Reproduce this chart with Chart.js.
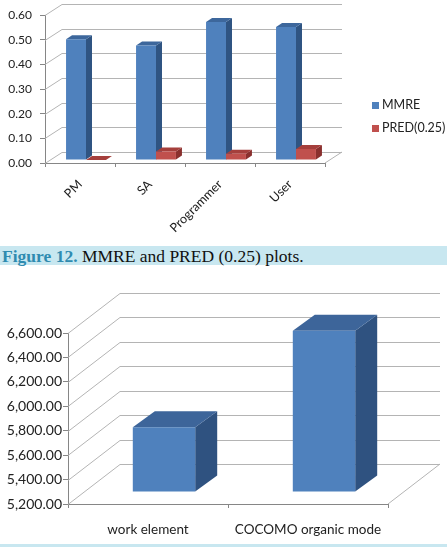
<!DOCTYPE html>
<html>
<head>
<meta charset="utf-8">
<script src="https://cdn.jsdelivr.net/npm/chart.js@4.4.0/dist/chart.umd.min.js"></script>
<style>
  html, body { margin: 0; padding: 0; background: #fff; }
  body { width: 447px; height: 547px; position: relative; overflow: hidden; }
  .box { position: absolute; left: 0; width: 447px; }
  #topBox { top: 0; height: 245px; }
  #bottomBox { top: 266px; height: 278px; }
  .caption {
    position: absolute; left: 0; top: 246px; width: 445px; height: 19px;
    padding-left: 2px; background: #c8e7f0; white-space: nowrap;
    font-family: 'Liberation Serif', serif; font-size: 17.5px; line-height: 20px; color: #111;
  }
  .caption b { color: #2f8bb0; }
  .band { position: absolute; left: 0; top: 544px; width: 447px; height: 3px; background: #c8e7f0; }
</style>
</head>
<body>
<div class="box" id="topBox"><canvas id="mmreChart"></canvas></div>
<div class="caption"><b>Figure 12.</b> MMRE and PRED (0.25) plots.</div>
<div class="box" id="bottomBox"><canvas id="effortChart"></canvas></div>
<div class="band"></div>
<script>
// MMRE / PRED - 3D BARS
const roles = ["PM", "SA", "Programmer", "User"];
const mmre = [0.49, 0.465, 0.56, 0.54];
const pred = [0, 0.035, 0.025, 0.045];
const topMin = 0, topMax = 0.6, topStep = 0.1;

// EFFORT - 3D BARS
const methods = ["work element", "COCOMO organic mode"];
const effort = [5730, 6520];
const botMin = 5200, botMax = 6600, botStep = 200;

Chart.defaults.font.family = "Lato, 'Open Sans', sans-serif";
Chart.defaults.color = "#222";

function poly(ctx, pts) {
    ctx.beginPath();
    pts.forEach((p, i) => i ? ctx.lineTo(p[0], p[1]) : ctx.moveTo(p[0], p[1]));
    ctx.closePath();
    ctx.fill();
}

// walls + side/top faces of the bars, fronts are drawn by chart.js
function box3d(o) {
    return {
        id: 'box3d',
        beforeDatasetsDraw(chart) {
            const ctx = chart.ctx, a = chart.chartArea, y = chart.scales.y;
            const [wx, wy] = o.wall;
            ctx.save();
            ctx.strokeStyle = '#b4b4b4';
            ctx.lineWidth = 1;
            ctx.beginPath();
            y.ticks.forEach(t => {
                const py = Math.round(y.getPixelForValue(t.value)) + 0.5;
                ctx.moveTo(a.left, py);
                ctx.lineTo(a.left + wx, py + wy);
                ctx.lineTo(a.right + wx, py + wy);
            });
            ctx.moveTo(a.right, a.bottom);
            ctx.lineTo(a.right + wx, a.bottom + wy);
            ctx.stroke();

            ctx.translate(o.shift[0], o.shift[1]);
            const bars = [];
            chart.data.datasets.forEach((ds, i) => {
                chart.getDatasetMeta(i).data.forEach(el => bars.push({el, ds}));
            });
            bars.sort((p, q) => p.el.x - q.el.x);
            const [dx, dy] = o.depth;
            bars.forEach(({el, ds}) => {
                const l = el.x - el.width / 2, r = el.x + el.width / 2;
                const t = el.y, b = Math.min(el.base, a.bottom);
                ctx.fillStyle = ds.sideColor;
                poly(ctx, [[r, t], [r, b], [r + dx, b + dy], [r + dx, t + dy]]);
                ctx.fillStyle = ds.topColor;
                poly(ctx, [[l, t], [r, t], [r + dx, t + dy], [l + dx, t + dy]]);
            });
        },
        afterDatasetsDraw(chart) {
            chart.ctx.restore();
        }
    };
}

const sideLegend = {
    id: 'sideLegend',
    afterDraw(chart) {
        const ctx = chart.ctx;
        ctx.save();
        ctx.font = "12.5px Lato, sans-serif";
        ctx.textBaseline = 'middle';
        chart.data.datasets.forEach((ds, i) => {
            const cy = 105 + i * 23;
            ctx.fillStyle = ds.backgroundColor;
            ctx.fillRect(372, cy - 3, 7, 7);
            ctx.fillStyle = '#222';
            ctx.fillText(ds.label, 382, cy);
        });
        ctx.restore();
    }
};

const axisGrid = (len) => ({ drawOnChartArea: false, color: '#868686', tickLength: len });

new Chart(document.getElementById("mmreChart"), {
    type: 'bar',
    data: {
        labels: roles,
        datasets: [
            { label: "MMRE", data: mmre, backgroundColor: "#4f81bd", topColor: "#3d679c", sideColor: "#2f5482" },
            { label: "PRED(0.25)", data: pred, backgroundColor: "#c0504d", topColor: "#a53f3c", sideColor: "#8a302e" }
        ]
    },
    options: {
        responsive: true,
        maintainAspectRatio: false,
        animation: false,
        categoryPercentage: 0.57,
        barPercentage: 1,
        layout: { padding: { top: 14, right: 122, left: 0, bottom: 0 } },
        plugins: { legend: { display: false }, tooltip: { enabled: false } },
        scales: {
            x: {
                grid: axisGrid(4),
                border: { color: '#868686' },
                ticks: { minRotation: 45, maxRotation: 45, padding: 10, font: { size: 12.5 } },
                afterFit: s => { s.height = 82; }
            },
            y: {
                min: topMin, max: topMax,
                grid: axisGrid(5),
                border: { color: '#868686' },
                ticks: { stepSize: topStep, padding: 8, font: { size: 12 }, callback: v => v.toFixed(2) },
                afterFit: s => { s.width = 45; }
            }
        }
    },
    plugins: [box3d({ wall: [17, -11], shift: [6, -3], depth: [6, -4] }), sideLegend]
});

new Chart(document.getElementById("effortChart"), {
    type: 'bar',
    data: {
        labels: methods,
        datasets: [
            { label: "Effort", data: effort, base: botMin, backgroundColor: "#4f81bd", topColor: "#3d659a", sideColor: "#2f5280" }
        ]
    },
    options: {
        responsive: true,
        maintainAspectRatio: false,
        animation: false,
        categoryPercentage: 0.39,
        barPercentage: 1,
        layout: { padding: { top: 67, right: 59, left: 0, bottom: 0 } },
        plugins: { legend: { display: false }, tooltip: { enabled: false } },
        scales: {
            x: {
                grid: axisGrid(4),
                border: { color: '#868686' },
                ticks: { maxRotation: 0, padding: 14, font: { size: 13.5 } },
                afterFit: s => { s.height = 40; }
            },
            y: {
                min: botMin, max: botMax,
                grid: axisGrid(5),
                border: { color: '#868686' },
                ticks: {
                    stepSize: botStep, padding: 1, font: { size: 14 },
                    callback: v => v.toLocaleString('en-US', { minimumFractionDigits: 2, maximumFractionDigits: 2 })
                },
                afterFit: s => { s.width = 68; }
            }
        }
    },
    plugins: [box3d({ wall: [52, -40], shift: [16, -12], depth: [22, -16] })]
});
</script>
</body>
</html>
